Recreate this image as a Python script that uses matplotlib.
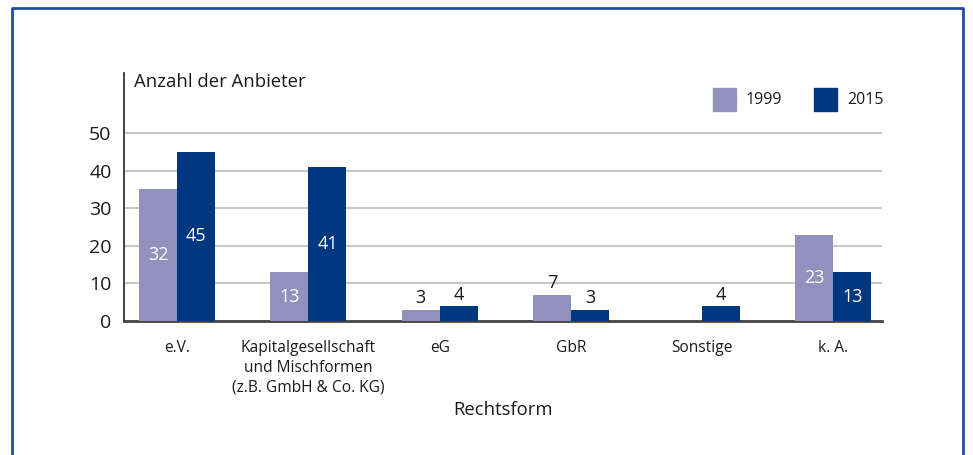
import matplotlib.pyplot as plt
import numpy as np
from matplotlib.patches import Rectangle

plt.rcParams["font.family"] = ["Open Sans", "DejaVu Sans"]

categories = ["e.V.", "Kapitalgesellschaft\nund Mischformen\n(z.B. GmbH & Co. KG)",
              "eG", "GbR", "Sonstige", "k. A."]
# bar heights as drawn; labels as printed (e.V. 1999 bar is drawn taller than its label)
values_1999 = [35, 13, 3, 7, 0, 23]
values_2015 = [45, 41, 4, 3, 4, 13]
labels_1999 = ["32", "13", "3", "7", "", "23"]
labels_2015 = ["45", "41", "4", "3", "4", "13"]
yticks = [0, 10, 20, 30, 40, 50]

C1999 = "#9290bd"
C2015 = "#003781"
TXT = "#1a1a1a"

fig = plt.figure(figsize=(9.73, 4.55), dpi=100)
W, H = 973, 455
ax = fig.add_axes([124 / W, 1 - 321 / H, (882 - 124) / W, (321 - 73) / H])

x = np.arange(len(categories))
w = 0.29
b1 = ax.bar(x - w / 2, values_1999, w, color=C1999, zorder=3)
b2 = ax.bar(x + w / 2, values_2015, w, color=C2015, zorder=3)

for bars, labs in ((b1, labels_1999), (b2, labels_2015)):
    for b, lab in zip(bars, labs):
        if not lab:
            continue
        h = b.get_height()
        cx = b.get_x() + b.get_width() / 2
        if h >= 10:
            ax.text(cx, h / 2, lab, ha="center", va="center", color="white",
                    fontsize=13, zorder=4)
        else:
            ax.text(cx, h + 0.6, lab, ha="center", va="bottom", color=TXT,
                    fontsize=13, zorder=4)

ax.set_xlim(-0.405, 5.37)
ax.set_ylim(0, 66)
ax.set_yticks(yticks)
ax.set_yticklabels([str(t) for t in yticks], fontsize=14, color=TXT)
ax.yaxis.grid(True, color="#c8c8c8", lw=1.5, zorder=0)
ax.set_axisbelow(True)
ax.tick_params(axis="y", length=0, pad=9)
ax.set_xticks(x)
ax.set_xticklabels(categories, fontsize=11.2, color=TXT, linespacing=1.3, va="top")
ax.tick_params(axis="x", length=0, pad=14)
for s in ("top", "right"):
    ax.spines[s].set_visible(False)
ax.spines["left"].set_color("#222222")
ax.spines["left"].set_linewidth(1.2)
ax.spines["bottom"].set_color("#444444")
ax.spines["bottom"].set_linewidth(2)

fig.text(134 / W, 1 - 82 / H, "Anzahl der Anbieter", fontsize=13.3, color=TXT,
         ha="left", va="center", fontweight="medium")
fig.text(503 / W, 1 - 410 / H, "Rechtsform", fontsize=13.3, color=TXT,
         ha="center", va="center", fontweight="medium")

# legend drawn by hand to match the reference placement
for x0, col, lab in ((713, C1999, "1999"), (814, C2015, "2015")):
    fig.patches.append(Rectangle((x0 / W, 1 - 111 / H), 23 / W, 23 / H,
                                 transform=fig.transFigure, color=col))
    fig.text((x0 + 33) / W, 1 - 100 / H, lab, fontsize=11.5, color=TXT,
             ha="left", va="center")

# outer frame (open at bottom)
fig.add_artist(plt.Line2D([12 / W, 12 / W, 963 / W, 963 / W],
                          [0, 1 - 8 / H, 1 - 8 / H, 0],
                          transform=fig.transFigure, color="#1d4f9c", lw=2))

fig.savefig("out.png", dpi=100)
